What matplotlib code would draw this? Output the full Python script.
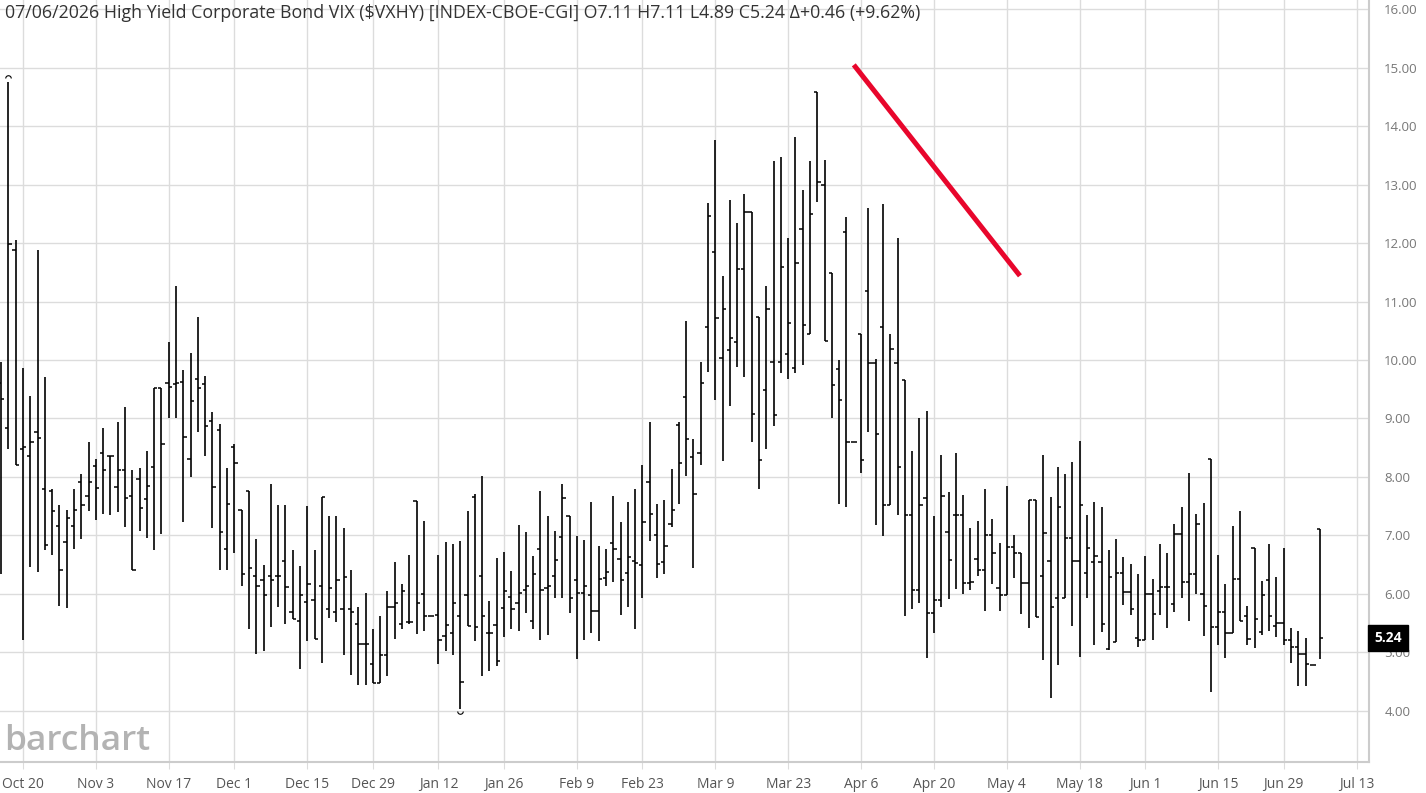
import numpy as np
import pandas as pd
import matplotlib
matplotlib.use('Agg')
import matplotlib.pyplot as plt
from matplotlib.path import Path
from matplotlib.transforms import offset_copy

# trading calendar (index 0 = Oct 15 2025), holidays removed
holidays = ['2025-11-27', '2025-12-25', '2026-01-01', '2026-01-19',
            '2026-02-16', '2026-05-25', '2026-06-19']
tick_dates = ['2025-10-20', '2025-11-03', '2025-11-17', '2025-12-01', '2025-12-15',
              '2025-12-29', '2026-01-12', '2026-01-26', '2026-02-09', '2026-02-23',
              '2026-03-09', '2026-03-23', '2026-04-06', '2026-04-20', '2026-05-04',
              '2026-05-18', '2026-06-01', '2026-06-15', '2026-06-29', '2026-07-13']
tick_labels = ['Oct 20', 'Nov 3', 'Nov 17', 'Dec 1', 'Dec 15', 'Dec 29', 'Jan 12',
               'Jan 26', 'Feb 9', 'Feb 23', 'Mar 9', 'Mar 23', 'Apr 6', 'Apr 20',
               'May 4', 'May 18', 'Jun 1', 'Jun 15', 'Jun 29', 'Jul 13']

# daily OHLC, Oct 15 2025 .. Jul 6 2026
opens = [9.60, 8.83, 11.89, 8.47, 8.36, 8.76, 7.79, 7.76, 7.16, 6.88,
         7.16, 7.92, 7.68, 8.18, 8.41, 8.35, 7.82, 8.11, 7.68, 7.97,
         7.62, 8.16, 9.52, 9.60, 9.59, 9.62, 8.31, 9.68, 9.59, 8.95,
         8.81, 6.77, 8.51, 7.44, 7.76, 6.31, 6.24, 6.31, 6.30, 6.56,
         5.68, 5.53, 5.85, 5.89, 6.13, 5.74, 5.68, 5.74, 5.74, 5.48,
         5.14, 4.79, 4.48, 4.95, 5.78, 5.49, 5.52, 7.59, 6.00, 5.62,
         5.64, 5.27, 5.32, 5.62, 5.97, 7.65, 6.30, 5.32, 5.46, 5.76,
         5.95, 5.84, 6.07, 5.53, 6.77, 6.09, 6.30, 6.97, 7.33, 6.24,
         6.02, 5.97, 5.71, 6.27, 6.87, 6.59, 6.36, 6.56, 6.49, 7.92,
         7.00, 6.54, 7.19, 8.88, 9.37, 8.34, 8.41, 10.56, 11.85, 10.04,
         10.17, 10.30, 11.56, 12.53, 10.74, 9.48, 9.96, 9.97, 10.11, 9.86,
         12.24, 10.44, 14.59, 13.00, 11.48, 9.84, 12.19, 8.60, 10.44, 11.18,
         9.94, 10.56, 7.51, 9.95, 9.65, 7.35, 6.07, 7.64, 5.67, 5.89,
         7.05, 7.35, 7.35, 6.18, 6.59, 6.41, 7.01, 6.09, 5.98, 6.80,
         6.69, 6.18, 7.60, 6.31, 6.56, 5.93, 5.92, 6.96, 6.56, 6.36,
         6.54, 6.54, 5.06, 5.17, 6.36, 6.03, 5.24, 5.21, 6.00, 6.05,
         6.11, 5.82, 7.03, 6.20, 6.33, 6.00, 8.30, 5.43, 5.69, 5.32,
         6.26, 5.61, 6.79, 5.34, 6.23, 5.44, 5.50, 5.20, 5.09, 4.96,
         4.78, 7.11]
highs = [9.97, 14.76, 12.06, 9.86, 9.39, 11.88, 9.70, 7.80, 7.52, 7.44,
         7.80, 8.04, 8.59, 8.30, 8.83, 8.35, 8.94, 9.19, 8.11, 8.15,
         8.45, 9.52, 9.52, 10.31, 11.27, 9.83, 10.12, 10.73, 9.72, 9.11,
         8.90, 8.15, 8.56, 7.44, 7.76, 6.93, 6.49, 7.87, 7.52, 7.52,
         6.74, 6.47, 7.50, 6.75, 7.66, 7.33, 7.33, 7.12, 6.41, 5.78,
         6.01, 5.40, 5.61, 6.04, 6.54, 6.16, 6.67, 7.59, 7.24, 5.62,
         6.67, 6.88, 6.85, 6.90, 7.42, 7.71, 8.02, 5.87, 6.61, 6.72,
         6.39, 7.17, 7.06, 6.65, 7.76, 7.33, 7.08, 7.87, 7.33, 6.99,
         6.92, 7.57, 6.81, 6.76, 7.68, 7.22, 7.57, 7.80, 8.20, 8.93,
         7.53, 7.60, 8.13, 8.93, 10.66, 8.65, 9.96, 12.68, 13.77, 11.43,
         12.74, 12.34, 12.84, 12.53, 10.74, 11.27, 13.41, 13.47, 12.08, 13.81,
         12.91, 13.41, 14.59, 13.43, 11.48, 10.00, 12.44, 8.60, 10.44, 12.60,
         10.02, 12.67, 10.45, 12.09, 9.65, 8.45, 9.00, 9.12, 7.33, 8.37,
         7.74, 8.40, 7.69, 7.12, 7.24, 7.80, 7.28, 6.87, 7.84, 7.00,
         6.69, 7.60, 7.60, 8.38, 7.66, 8.16, 8.04, 8.25, 8.61, 7.34,
         7.57, 7.48, 6.74, 6.93, 6.63, 6.51, 6.34, 6.65, 6.25, 6.85,
         6.69, 7.19, 7.48, 8.07, 7.36, 7.55, 8.30, 6.67, 6.16, 7.16,
         7.42, 5.79, 6.79, 6.21, 6.85, 6.29, 6.78, 5.42, 5.37, 5.25,
         4.78, 7.11]
lows = [6.34, 8.47, 8.20, 5.20, 6.45, 6.38, 6.74, 6.67, 5.79, 5.76,
        6.76, 6.93, 7.41, 7.26, 7.36, 7.34, 7.39, 7.15, 6.41, 7.08,
        6.96, 6.74, 7.03, 9.01, 9.01, 7.22, 7.99, 8.76, 8.36, 7.12,
        6.41, 6.41, 6.69, 6.13, 5.39, 4.96, 5.02, 5.43, 5.78, 5.48,
        5.56, 4.72, 5.19, 5.22, 4.81, 5.58, 5.51, 4.95, 4.61, 4.44,
        4.44, 4.48, 4.48, 4.59, 5.22, 5.40, 5.48, 5.31, 5.36, 5.62,
        4.79, 5.02, 4.95, 4.03, 5.44, 5.19, 4.59, 4.67, 4.76, 5.26,
        5.40, 5.36, 5.67, 5.39, 5.20, 5.30, 5.93, 5.93, 5.67, 4.88,
        5.21, 5.32, 5.19, 6.14, 6.20, 5.63, 5.78, 5.39, 5.93, 6.91,
        6.27, 6.34, 7.14, 7.53, 8.02, 6.44, 8.20, 9.79, 9.32, 8.27,
        9.21, 9.88, 9.71, 8.59, 7.80, 8.47, 8.87, 9.77, 9.68, 9.77,
        9.91, 10.44, 12.71, 10.32, 9.01, 7.53, 7.49, 8.60, 8.07, 8.77,
        7.17, 6.99, 7.51, 7.35, 5.62, 5.73, 5.84, 4.90, 5.33, 5.78,
        5.91, 6.08, 6.00, 6.07, 6.30, 5.71, 6.16, 5.71, 5.98, 6.27,
        5.66, 5.42, 5.60, 4.86, 4.21, 4.78, 5.92, 5.44, 4.92, 5.92,
        5.13, 5.35, 5.03, 5.17, 5.80, 5.63, 5.08, 5.21, 5.21, 5.63,
        5.42, 5.69, 5.92, 5.53, 6.00, 5.28, 4.32, 5.12, 4.90, 5.32,
        5.53, 5.12, 5.07, 5.30, 5.37, 5.26, 5.12, 4.81, 4.42, 4.42,
        4.78, 4.89]
closes = [9.34, 11.98, 8.20, 8.51, 8.60, 8.67, 6.83, 7.42, 6.40, 7.30,
          7.44, 7.52, 7.91, 7.81, 8.11, 8.35, 8.11, 7.64, 6.41, 7.46,
          7.84, 9.52, 8.56, 9.53, 9.60, 8.69, 9.30, 9.52, 8.87, 7.82,
          7.05, 7.53, 8.24, 6.33, 6.44, 6.14, 5.98, 6.23, 6.30, 6.11,
          5.56, 5.97, 6.16, 5.22, 7.66, 6.09, 6.23, 6.28, 5.68, 5.14,
          5.14, 4.48, 4.95, 5.78, 5.84, 6.04, 5.52, 5.84, 5.61, 5.62,
          5.20, 5.46, 5.84, 4.49, 5.44, 5.43, 5.61, 5.32, 4.85, 6.04,
          5.73, 6.02, 6.13, 6.33, 6.06, 6.13, 6.57, 7.64, 5.92, 6.02,
          6.13, 5.71, 6.26, 6.38, 6.77, 6.23, 6.63, 6.52, 7.23, 7.37,
          6.51, 6.81, 7.44, 8.24, 8.65, 7.71, 9.60, 12.46, 10.71, 10.87,
          10.37, 11.56, 12.53, 9.08, 8.28, 10.88, 9.05, 11.59, 10.64, 11.66,
          10.60, 12.50, 13.04, 10.32, 9.57, 9.31, 8.60, 8.60, 8.29, 9.94,
          8.74, 7.51, 10.19, 8.17, 7.35, 6.07, 7.51, 5.67, 5.89, 7.68,
          6.58, 7.35, 6.18, 6.20, 6.41, 7.01, 6.69, 5.98, 6.80, 6.69,
          6.18, 7.60, 5.60, 7.04, 5.78, 7.48, 6.96, 6.56, 7.51, 6.79,
          6.65, 5.49, 6.29, 6.36, 6.03, 5.74, 5.20, 6.00, 5.66, 6.11,
          6.11, 7.03, 6.20, 6.33, 7.20, 5.79, 5.43, 5.69, 5.32, 6.26,
          5.53, 5.22, 5.56, 5.98, 5.61, 5.50, 5.20, 5.09, 4.96, 4.79,
          4.78, 5.24]

# hand-drawn trend line (trading-day index, price)
trend_x = [117.0, 139.8]
trend_y = [15.05, 11.44]

title = ('07/06/2026 High Yield Corporate Bond VIX ($VXHY) [INDEX-CBOE-CGI] '
         'O7.11 H7.11 L4.89 C5.24 \u0394+0.46 (+9.62%)')
last_price = 5.24

# trading-day positions
days = pd.bdate_range('2025-10-15', '2026-07-20')
days = days[~days.isin(pd.to_datetime(holidays))]
pos = {d: i for i, d in enumerate(days)}
x = np.arange(len(opens))
tick_pos = [pos[pd.Timestamp(d)] for d in tick_dates]

plt.rcParams['font.family'] = ['Open Sans', 'DejaVu Sans']

fig = plt.figure(figsize=(14.26, 7.93), dpi=100)
ax = fig.add_axes([0.0, 1 - 762 / 793, 1369 / 1426, 762 / 793])

grid_c = '#dcdcdc'
ax.set_xticks(tick_pos)
ax.set_xticklabels(tick_labels)
ax.set_yticks(np.arange(4, 17))
ax.set_yticklabels(['%.2f' % v for v in np.arange(4, 17)])
ax.grid(True, color=grid_c, linewidth=1.0, zorder=0)
ax.set_axisbelow(True)

hw = 0.45
ax.vlines(x, lows, highs, color='black', linewidth=1.2, zorder=3)
ax.hlines(opens, x - hw, x, color='black', linewidth=1.1, zorder=3)
ax.hlines(closes, x, x + hw, color='black', linewidth=1.1, zorder=3)

# small arcs marking the period high and low
i_hi = int(np.argmax(highs))
i_lo = int(np.argmin(lows))
arc_up = Path.arc(0, 180)
arc_dn = Path.arc(180, 360)
ax.plot([x[i_hi]], [highs[i_hi]], linestyle='none', marker=arc_up,
        markersize=4, markerfacecolor='none', markeredgecolor='black',
        markeredgewidth=0.8,
        transform=offset_copy(ax.transData, fig=fig, y=2.5, units='points'))
ax.plot([x[i_lo]], [lows[i_lo]], linestyle='none', marker=arc_dn,
        markersize=4, markerfacecolor='none', markeredgecolor='black',
        markeredgewidth=0.8,
        transform=offset_copy(ax.transData, fig=fig, y=-1.5, units='points'))

ax.plot(trend_x, trend_y, color='#e8062c', linewidth=3.6,
        solid_capstyle='butt', zorder=4)

ax.set_xlim(-0.16, 187.7)
ax.set_ylim(3.12, 16.16)

for s in ['top', 'left']:
    ax.spines[s].set_visible(False)
for s in ['right', 'bottom']:
    ax.spines[s].set_color('#cccccc')
    ax.spines[s].set_linewidth(1.5)

ax.yaxis.tick_right()
ax.tick_params(axis='y', length=0, pad=11, labelsize=9.5, labelcolor='#777777')
ax.tick_params(axis='x', length=5, color=grid_c, pad=6, labelsize=10,
               labelcolor='#555555')

# last price tag
ax.annotate('%.2f' % last_price, xy=(1.0, last_price),
            xycoords=('axes fraction', 'data'), xytext=(4, 0),
            textcoords='offset points', ha='left', va='center',
            fontsize=10, fontweight='bold', color='white',
            bbox=dict(boxstyle='square,pad=0.45', fc='black', ec='black'))

fig.text(5 / 1426, 1 - 13 / 793, title, ha='left', va='center',
         fontsize=12.8, color='#333333')
fig.text(4 / 1426, 1 - 741 / 793, 'barchart', ha='left', va='center',
         fontsize=25.5, color='#b3b3b3', fontweight='semibold')

fig.savefig('out.png', dpi=100)
